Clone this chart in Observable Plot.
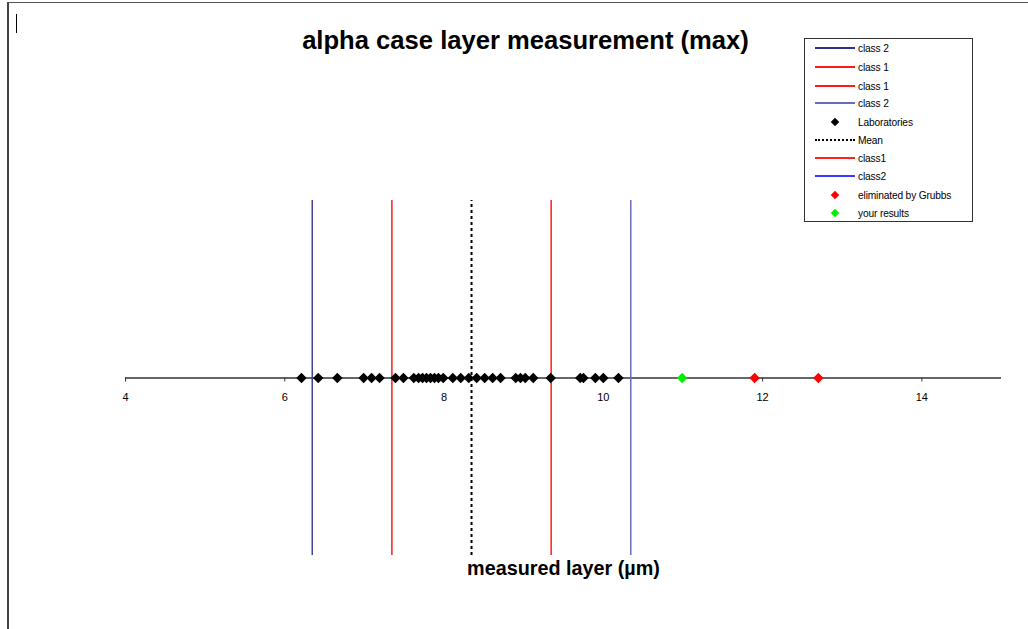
<!DOCTYPE html>
<html>
<head>
<meta charset="utf-8">
<script src="https://cdn.jsdelivr.net/npm/d3@7"></script>
<script src="https://cdn.jsdelivr.net/npm/@observablehq/plot@0.6"></script>
<style>
  html, body { margin: 0; padding: 0; background: #fff; }
  body { width: 1028px; height: 629px; overflow: hidden; position: relative; font-family: "Liberation Sans", Arial, sans-serif; }
  #frame { position: absolute; left: 7px; top: 2px; width: 1030px; height: 640px; border-left: 2px solid #444; border-top: 1px solid #555; pointer-events: none; }
  #cursor { position: absolute; left: 16px; top: 14px; width: 1px; height: 19px; background: #000; }
  #chart { position: absolute; left: 0; top: 0; }
  #legend { position: absolute; left: 804px; top: 38px; width: 169px; height: 184px; border: 1px solid #333; background: #fff; box-sizing: border-box; font-size: 10.2px; letter-spacing: -0.15px; color: #000; }
  .row { position: absolute; left: 0; height: 14px; display: flex; align-items: center; }
  .sw { width: 40px; margin-left: 10px; margin-right: 3px; display: flex; justify-content: center; align-items: center; }
  .ln { width: 40px; height: 1.6px; }
  .ds { width: 40px; height: 0; }
  .dm { width: 6px; height: 6px; transform: rotate(45deg); }
</style>
</head>
<body>
<div id="chart"></div>
<div id="frame"></div>
<div id="cursor"></div>
<div id="legend"></div>
<script>
// ---- data ----
const laboratories = [6.21, 6.42, 6.66, 6.99, 7.09, 7.19, 7.39, 7.49, 7.62, 7.68, 7.73, 7.78, 7.83, 7.88, 7.93,
  7.99, 8.11, 8.21, 8.31, 8.41, 8.51, 8.61, 8.71, 8.90, 8.96, 9.02, 9.12, 9.34, 9.71, 9.75, 9.90, 10.00, 10.19];
const eliminatedByGrubbs = [11.90, 12.70];
const yourResults = [10.99];
const meanValue = [8.345];
const class1Limits = [7.345, 9.345];
const class2Limits = [6.345, 10.345];
const tickValues = [4, 6, 8, 10, 12, 14];
const tickLabels = ["4", "6", "8", "10", "12", "14"];
const axisExtent = [4, 15];
const titleText = "alpha case layer measurement (max)";
const xLabelText = "measured layer (µm)";
const legendItems = [
  {label: "class 2", kind: "line", color: "#2e2e8c"},
  {label: "class 1", kind: "line", color: "#ff1a1a"},
  {label: "class 1", kind: "line", color: "#ff1a1a"},
  {label: "class 2", kind: "line", color: "#6a6abf"},
  {label: "Laboratories", kind: "dot", color: "#000000"},
  {label: "Mean", kind: "dash", color: "#000000"},
  {label: "class1", kind: "line", color: "#ff2020"},
  {label: "class2", kind: "line", color: "#3a3aff"},
  {label: "eliminated by Grubbs", kind: "dot", color: "#ff0000"},
  {label: "your results", kind: "dot", color: "#00ee00"}
];

const tickRows = tickValues.map((v, i) => ({v, label: tickLabels[i]}));

const chart = Plot.plot({
  width: 1028,
  height: 629,
  marginLeft: 125,
  marginRight: 27,
  marginTop: 0,
  marginBottom: 0,
  x: {domain: axisExtent, axis: null},
  y: {domain: [0, 1], range: [555, 200], axis: null},
  style: {fontFamily: "'Liberation Sans', Arial, sans-serif", background: "#fff"},
  marks: [
    // axis line
    Plot.ruleY([0.5], {x1: axisExtent[0], x2: axisExtent[1], stroke: "#333", strokeWidth: 1.3}),
    Plot.ruleX(tickRows, {x: "v", y1: 0.5, y2: 0.5, insetBottom: -4, stroke: "#333", strokeWidth: 1}),
    Plot.text(tickRows, {x: "v", y: 0.5, text: "label", dy: 19, fontSize: 11, fill: "#000"}),
    // class lines
    Plot.ruleX([class2Limits[0]], {y1: 0, y2: 1, stroke: "#44449e", strokeWidth: 1.5}),
    Plot.ruleX([class2Limits[1]], {y1: 0, y2: 1, stroke: "#6a6abf", strokeWidth: 1.5}),
    Plot.ruleX(class1Limits, {y1: 0, y2: 1, stroke: "#ff1a1a", strokeWidth: 1.5}),
    Plot.ruleX(meanValue, {y1: 0, y2: 1, stroke: "#000", strokeWidth: 2, strokeDasharray: "3,3"}),
    // points
    Plot.dot(laboratories, {x: d => d, y: 0.5, symbol: "diamond2", r: 4.7, fill: "#000"}),
    Plot.dot(yourResults, {x: d => d, y: 0.5, symbol: "diamond2", r: 4.7, fill: "#00ee00"}),
    Plot.dot(eliminatedByGrubbs, {x: d => d, y: 0.5, symbol: "diamond2", r: 4.7, fill: "#ff0000"}),
    // title & axis label
    Plot.text([titleText], {frameAnchor: "top", lineAnchor: "middle", dx: -38, dy: 40, fontSize: 25.6, fontWeight: "bold", fill: "#000"}),
    Plot.text([xLabelText], {frameAnchor: "top", lineAnchor: "middle", dy: 568, fontSize: 19.8, fontWeight: "bold", fill: "#000"})
  ]
});
document.getElementById("chart").appendChild(chart);

// legend
const legend = document.getElementById("legend");
const rowTops = [2, 21, 40, 57, 76, 94, 112, 130, 149, 167];
legendItems.forEach((it, i) => {
  const row = document.createElement("div");
  row.className = "row";
  row.style.top = rowTops[i] + "px";
  const sw = document.createElement("div");
  sw.className = "sw";
  const inner = document.createElement("div");
  if (it.kind === "dot") {
    inner.className = "dm";
    inner.style.background = it.color;
  } else if (it.kind === "dash") {
    inner.className = "ds";
    inner.style.borderTop = "2px dotted " + it.color;
  } else {
    inner.className = "ln";
    inner.style.background = it.color;
  }
  sw.appendChild(inner);
  row.appendChild(sw);
  const t = document.createElement("span");
  t.textContent = it.label;
  row.appendChild(t);
  legend.appendChild(row);
});
</script>
</body>
</html>
